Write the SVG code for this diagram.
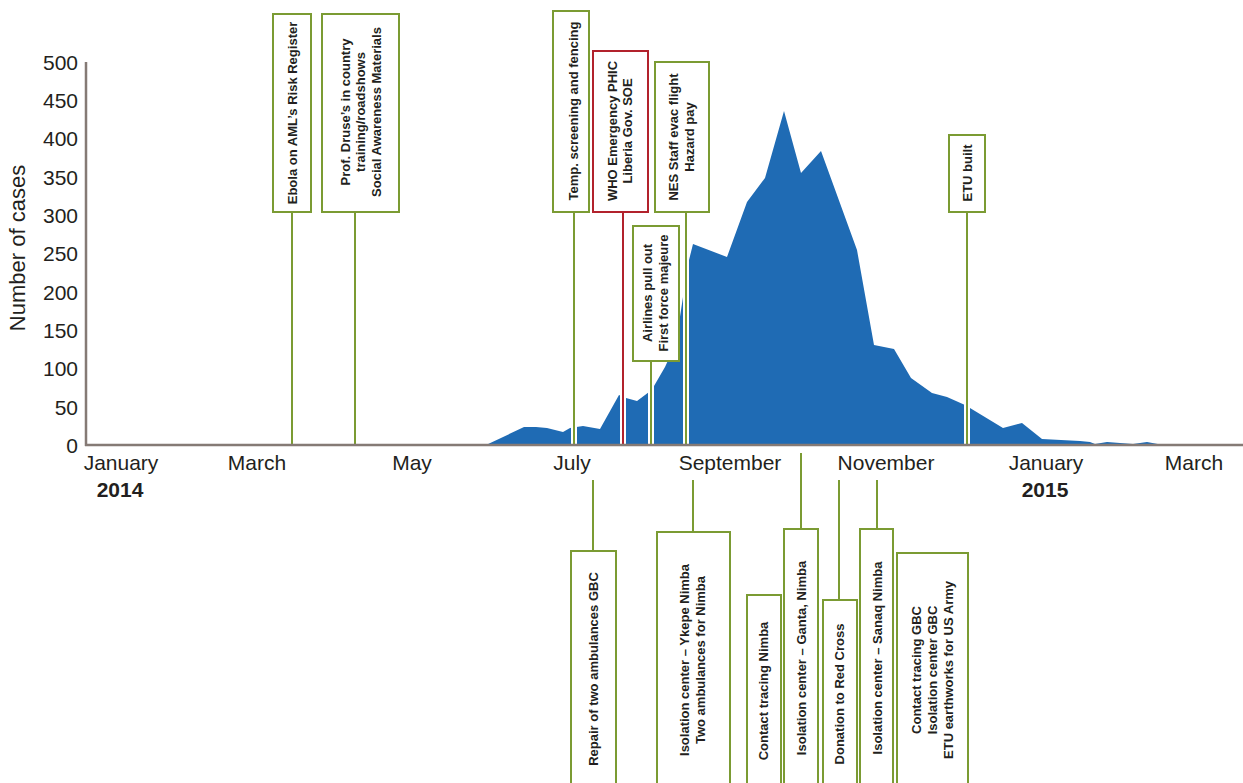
<svg xmlns="http://www.w3.org/2000/svg" width="1243" height="783" viewBox="0 0 1243 783">
<style>
.ax{font-family:"Liberation Sans",Arial,sans-serif;font-size:21px;fill:#231f20}
.yl{font-family:"Liberation Sans",Arial,sans-serif;font-size:22px;fill:#231f20}
.yr{font-family:"Liberation Sans",Arial,sans-serif;font-size:21px;font-weight:bold;fill:#231f20}
.lb{font-family:"Liberation Sans",Arial,sans-serif;font-size:13px;font-weight:bold;fill:#231f20;text-anchor:middle}
.box{fill:#ffffff;stroke:#7b9b33;stroke-width:2}
.boxr{fill:#ffffff;stroke:#b2222c;stroke-width:2}
.ln{stroke:#7b9b33;stroke-width:2;fill:none}
.lnr{stroke:#b2222c;stroke-width:2;fill:none}
.cas{stroke:#ffffff;stroke-width:6;fill:none}
</style>
<rect width="1243" height="783" fill="#ffffff"/>
<g id="chart">
<polygon fill="#1f6bb4" points="486,445 524,427 536,427 547,428 563,432 570,428 583,426 600,429 619,395 626,398 637,401 649,392 654,386 665,367 676,343 683,297 689,260 693,244 727,257 747,202 765,178 784,111 801,173 821,151 857,250 874,345 894,349 911,378 932,393 947,397 965,405 970,408 1003,428 1022,423 1042,439 1080,441 1090,442 1095,444 1107,442 1120,443 1133,444 1147,442 1163,445"/>
<g class="ax" text-anchor="end">
<text x="78" y="70">500</text>
<text x="78" y="108">450</text>
<text x="78" y="146">400</text>
<text x="78" y="185">350</text>
<text x="78" y="223">300</text>
<text x="78" y="261">250</text>
<text x="78" y="300">200</text>
<text x="78" y="338">150</text>
<text x="78" y="376">100</text>
<text x="78" y="415">50</text>
<text x="78" y="453">0</text>
</g>
<text class="yl" text-anchor="middle" transform="translate(25,248) rotate(-90)">Number of cases</text>
<g class="ax" text-anchor="middle">
<text x="121" y="470">January</text>
<text x="257" y="470">March</text>
<text x="412" y="470">May</text>
<text x="572" y="470">July</text>
<text x="730" y="470">September</text>
<text x="886" y="470">November</text>
<text x="1046" y="470">January</text>
<text x="1194" y="470">March</text>
</g>
<text class="yr" x="120" y="497" text-anchor="middle">2014</text>
<text class="yr" x="1045" y="497" text-anchor="middle">2015</text>
</g>
<g id="connectors">
<line class="cas" x1="574" y1="400" x2="574" y2="444"/>
<line class="cas" x1="623" y1="380" x2="623" y2="444"/>
<line class="cas" x1="651" y1="370" x2="651" y2="444"/>
<line class="cas" x1="686" y1="260" x2="686" y2="444"/>
<line class="cas" x1="967" y1="395" x2="967" y2="444"/>
<line class="ln" x1="292" y1="212" x2="292" y2="445"/>
<line class="ln" x1="355" y1="212" x2="355" y2="445"/>
<line class="ln" x1="574" y1="212" x2="574" y2="445"/>
<line class="lnr" x1="623" y1="212" x2="623" y2="445"/>
<line class="ln" x1="651" y1="361" x2="651" y2="445"/>
<line class="ln" x1="686" y1="212" x2="686" y2="445"/>
<line class="ln" x1="967" y1="212" x2="967" y2="445"/>
<line class="ln" x1="593" y1="480" x2="593" y2="551"/>
<line class="ln" x1="693" y1="480" x2="693" y2="532"/>
<line class="ln" x1="801" y1="453" x2="801" y2="529"/>
<line class="ln" x1="839" y1="480" x2="839" y2="600"/>
<line class="ln" x1="877" y1="480" x2="877" y2="529"/>
</g>
<g id="axes">
<line x1="86" y1="62" x2="86" y2="446" stroke="#857a75" stroke-width="2.5"/>
<line x1="85" y1="445" x2="1243" y2="445" stroke="#857a75" stroke-width="2.5"/>
</g>
<g id="n-ebola">
<rect class="box" x="273" y="14" width="38" height="198"/>
<text class="lb" transform="translate(296.5,113) rotate(-90)">Ebola on AML’s Risk Register</text>
</g>
<g id="n-druse">
<rect class="box" x="322" y="14" width="77" height="198"/>
<text class="lb" transform="translate(349.5,112) rotate(-90)"><tspan x="0" dy="0">Prof. Druse’s in country</tspan><tspan x="0" dy="15.5">training/roadshows</tspan><tspan x="0" dy="15.5">Social Awareness Materials</tspan></text>
</g>
<g id="n-temp">
<rect class="box" x="553" y="11" width="36" height="201"/>
<text class="lb" transform="translate(577.5,111) rotate(-90)">Temp. screening and fencing</text>
</g>
<g id="n-who">
<rect class="boxr" x="593" y="51" width="55" height="161"/>
<text class="lb" transform="translate(616.5,131) rotate(-90)"><tspan x="0" dy="0">WHO Emergency PHIC</tspan><tspan x="0" dy="15.5">Liberia Gov. SOE</tspan></text>
</g>
<g id="n-airlines">
<rect class="box" x="633" y="226" width="46" height="135"/>
<text class="lb" transform="translate(651.5,293) rotate(-90)"><tspan x="0" dy="0">Airlines pull out</tspan><tspan x="0" dy="16">First force majeure</tspan></text>
</g>
<g id="n-nes">
<rect class="box" x="655" y="62" width="54" height="150"/>
<text class="lb" transform="translate(677.5,137) rotate(-90)"><tspan x="0" dy="0">NES Staff evac flight</tspan><tspan x="0" dy="16.5">Hazard pay</tspan></text>
</g>
<g id="n-etu">
<rect class="box" x="949" y="135" width="36" height="77"/>
<text class="lb" transform="translate(971.5,173) rotate(-90)">ETU built</text>
</g>
<g id="n-repair">
<rect class="box" x="571" y="551" width="45" height="250"/>
<text class="lb" transform="translate(597.5,669) rotate(-90)">Repair of two ambulances GBC</text>
</g>
<g id="n-ykepe">
<rect class="box" x="657" y="532" width="73" height="270"/>
<text class="lb" transform="translate(688.5,660) rotate(-90)"><tspan x="0" dy="0">Isolation center – Ykepe Nimba</tspan><tspan x="0" dy="16.5">Two ambulances for Nimba</tspan></text>
</g>
<g id="n-contact-nimba">
<rect class="box" x="747" y="595" width="34" height="210"/>
<text class="lb" transform="translate(767.5,691) rotate(-90)">Contact tracing Nimba</text>
</g>
<g id="n-ganta">
<rect class="box" x="784" y="529" width="34" height="275"/>
<text class="lb" transform="translate(805.5,658) rotate(-90)">Isolation center – Ganta, Nimba</text>
</g>
<g id="n-donation">
<rect class="box" x="823" y="600" width="34" height="205"/>
<text class="lb" transform="translate(843.5,694) rotate(-90)">Donation to Red Cross</text>
</g>
<g id="n-sanaq">
<rect class="box" x="860" y="529" width="33" height="275"/>
<text class="lb" transform="translate(881.5,658) rotate(-90)">Isolation center – Sanaq Nimba</text>
</g>
<g id="n-gbc">
<rect class="box" x="897" y="553" width="71" height="250"/>
<text class="lb" transform="translate(920.5,670) rotate(-90)"><tspan x="0" dy="0">Contact tracing GBC</tspan><tspan x="0" dy="16">Isolation center GBC</tspan><tspan x="0" dy="16">ETU earthworks for US Army</tspan></text>
</g>
</svg>
